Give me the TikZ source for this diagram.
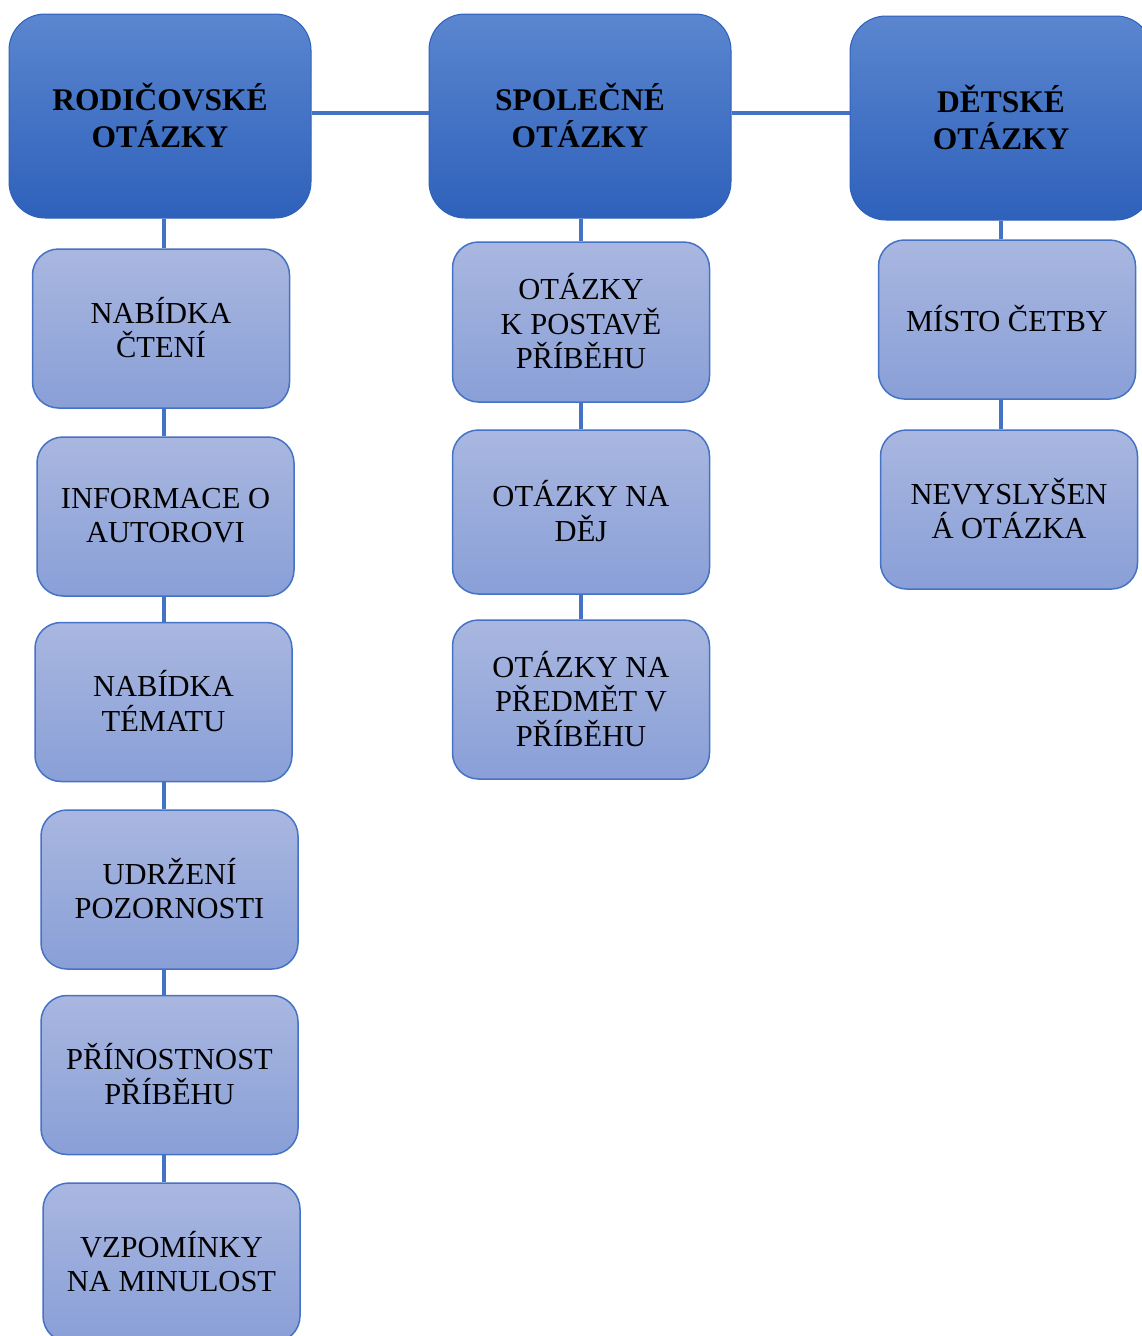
\documentclass[tikz,border=0pt]{standalone}
\usepackage{fontspec}
\setmainfont{Liberation Serif}
\definecolor{topA}{HTML}{5B86CF}
\definecolor{topB}{HTML}{2E61BB}
\definecolor{chA}{HTML}{A9B7E0}
\definecolor{chB}{HTML}{899FD7}
\definecolor{edge}{HTML}{4472C4}
\tikzset{
  headbox/.style={rounded corners=36pt, top color=topA, bottom color=topB, draw=topB, line width=1pt,
    inner sep=0pt, align=center, font=\fontsize{31.5}{37}\selectfont\bfseries,
    minimum width=302pt, minimum height=204pt, text depth=2pt},
  itembox/.style={rounded corners=26pt, top color=chA, bottom color=chB, draw=edge, line width=1.5pt,
    inner sep=0pt, align=center, font=\fontsize{30.5}{34.5}\selectfont,
    minimum width=257pt, minimum height=159pt, text depth=2pt},
  link/.style={draw=edge, line width=3.5pt}
}
\begin{document}
\begin{tikzpicture}[x=1pt,y=-1pt]
\useasboundingbox (0,0) rectangle (1142,1336);
\clip (0,0) rectangle (1142,1336);
% headers
\node[headbox] (rod) at (160,116) {RODIČOVSKÉ\\OTÁZKY};
\node[headbox] (spol) at (580,116) {SPOLEČNÉ\\OTÁZKY};
\node[headbox] (det) at (1001,118) {DĚTSKÉ\\OTÁZKY};
% left column
\node[itembox] (l1) at (161,328.5) {NABÍDKA\\ČTENÍ};
\node[itembox] (l2) at (165.5,516.5) {INFORMACE O\\AUTOROVI};
\node[itembox] (l3) at (163.5,702) {NABÍDKA\\TÉMATU};
\node[itembox] (l4) at (169.5,889.5) {UDRŽENÍ\\POZORNOSTI};
\node[itembox] (l5) at (169.5,1075) {PŘÍNOSTNOST\\PŘÍBĚHU};
\node[itembox] (l6) at (171.5,1262.5) {VZPOMÍNKY\\NA MINULOST};
% middle column
\node[itembox, minimum height=160pt] (m1) at (581,322) {OTÁZKY\\K POSTAVĚ\\PŘÍBĚHU};
\node[itembox, minimum height=164pt] (m2) at (581,512) {OTÁZKY NA\\DĚJ};
\node[itembox] (m3) at (581,699.5) {OTÁZKY NA\\PŘEDMĚT V\\PŘÍBĚHU};
% right column
\node[itembox] (r1) at (1007,319.5) {MÍSTO ČETBY};
\node[itembox] (r2) at (1009,509.5) {NEVYSLYŠEN\\Á OTÁZKA};
% connector guides
\coordinate (lx) at (164,0);
\coordinate (mx) at (581,0);
\coordinate (rx) at (1001,0);
\coordinate (hy) at (0,113);
% horizontal links
\draw[link] (rod.east |- hy) -- (spol.west |- hy);
\draw[link] (spol.east |- hy) -- (det.west |- hy);
% left links
\draw[link] (lx |- rod.south) -- (lx |- l1.north);
\draw[link] (lx |- l1.south) -- (lx |- l2.north);
\draw[link] (lx |- l2.south) -- (lx |- l3.north);
\draw[link] (lx |- l3.south) -- (lx |- l4.north);
\draw[link] (lx |- l4.south) -- (lx |- l5.north);
\draw[link] (lx |- l5.south) -- (lx |- l6.north);
% middle links
\draw[link] (mx |- spol.south) -- (mx |- m1.north);
\draw[link] (mx |- m1.south) -- (mx |- m2.north);
\draw[link] (mx |- m2.south) -- (mx |- m3.north);
% right links
\draw[link] (rx |- det.south) -- (rx |- r1.north);
\draw[link] (rx |- r1.south) -- (rx |- r2.north);
\end{tikzpicture}
\end{document}
